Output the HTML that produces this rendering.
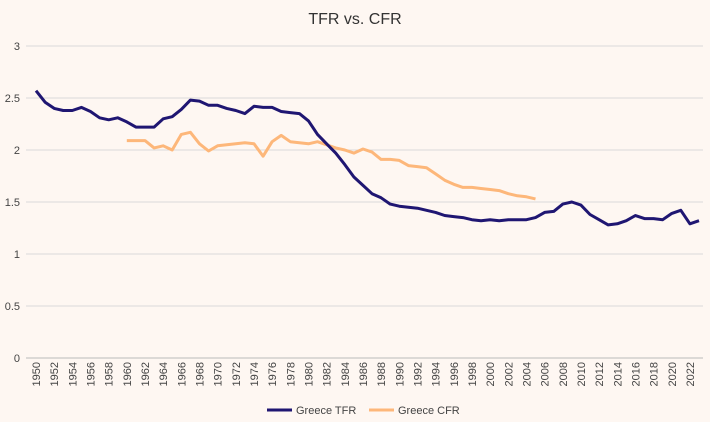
<!DOCTYPE html>
<html><head><meta charset="utf-8"><style>
body{margin:0;background:#fef7f2;font-family:"Liberation Sans",sans-serif}
svg{display:block}
</style></head><body>
<svg id="c" width="710" height="422">
<rect width="710" height="422" fill="#fef7f2"/>
<text x="355" y="24" text-anchor="middle" font-size="16" fill="#333">TFR vs. CFR</text>
<g id="grid"></g><g id="xt"></g><g id="series"></g>
<g>
<line x1="267" y1="410" x2="292" y2="410" stroke="#1f1672" stroke-width="3"/>
<text x="296" y="414" font-size="11" fill="#444">Greece TFR</text>
<line x1="369" y1="410" x2="394" y2="410" stroke="#fdb77a" stroke-width="3"/>
<text x="398" y="414" font-size="11" fill="#444">Greece CFR</text>
</g>
</svg>
<script>
const tfrStart=1950;
const tfr=[2.57,2.46,2.40,2.38,2.38,2.41,2.37,2.31,2.29,2.31,2.27,2.22,2.22,2.22,2.30,2.32,2.39,2.48,2.47,2.43,2.43,2.40,2.38,2.35,2.42,2.41,2.41,2.37,2.36,2.35,2.28,2.15,2.06,1.97,1.86,1.74,1.66,1.58,1.54,1.48,1.46,1.45,1.44,1.42,1.40,1.37,1.36,1.35,1.33,1.32,1.33,1.32,1.33,1.33,1.33,1.35,1.40,1.41,1.48,1.50,1.47,1.38,1.33,1.28,1.29,1.32,1.37,1.34,1.34,1.33,1.39,1.42,1.29,1.32];
const cfrStart=1960;
const cfr=[2.09,2.09,2.09,2.02,2.04,2.00,2.15,2.17,2.06,1.99,2.04,2.05,2.06,2.07,2.06,1.94,2.08,2.14,2.08,2.07,2.06,2.08,2.05,2.02,2.00,1.97,2.01,1.98,1.91,1.91,1.90,1.85,1.84,1.83,1.77,1.71,1.67,1.64,1.64,1.63,1.62,1.61,1.58,1.56,1.55,1.53];
const yTicks=[0,0.5,1,1.5,2,2.5,3];
const ns="http://www.w3.org/2000/svg";
const x0=36,x1=699,y0=358,y1=46;
const X=yr=>x0+(yr-1950)*(x1-x0)/73;
const Y=v=>y0-(v/3)*(y0-y1);
function el(t,a,p){const e=document.createElementNS(ns,t);for(const k in a)e.setAttribute(k,a[k]);p.appendChild(e);return e;}
const g=document.getElementById('grid');
yTicks.forEach(v=>{
 const l=el('line',{x1:26,x2:703,y1:Y(v),y2:Y(v),stroke:v===0?'#bbb':'#d9d9d9','stroke-width':1},g);
 
 
 const t=el('text',{x:20,y:Y(v)+4,'text-anchor':'end','font-size':11,fill:'#444'},g);
 t.textContent=v;
 
 
});
const xt=document.getElementById('xt');
for(let yr=1950;yr<=2022;yr+=2){
 const t=el('text',{transform:`translate(${X(yr)+4},362) rotate(-90)`,'text-anchor':'end','font-size':11,fill:'#444'},xt);
 t.textContent=yr;
 
 
}
const s=document.getElementById('series');
function line(arr,start,col,name){
 const d=arr.map((v,i)=>(i?'L':'M')+X(start+i).toFixed(1)+' '+Y(v).toFixed(1)).join(' ');
 const p=el('path',{d,fill:'none',stroke:col,'stroke-width':3,'stroke-linejoin':'round'},s);
 
 
}
line(cfr,cfrStart,'#fdb77a','cfr-line');
line(tfr,tfrStart,'#1f1672','tfr-line');
</script>
</body></html>
